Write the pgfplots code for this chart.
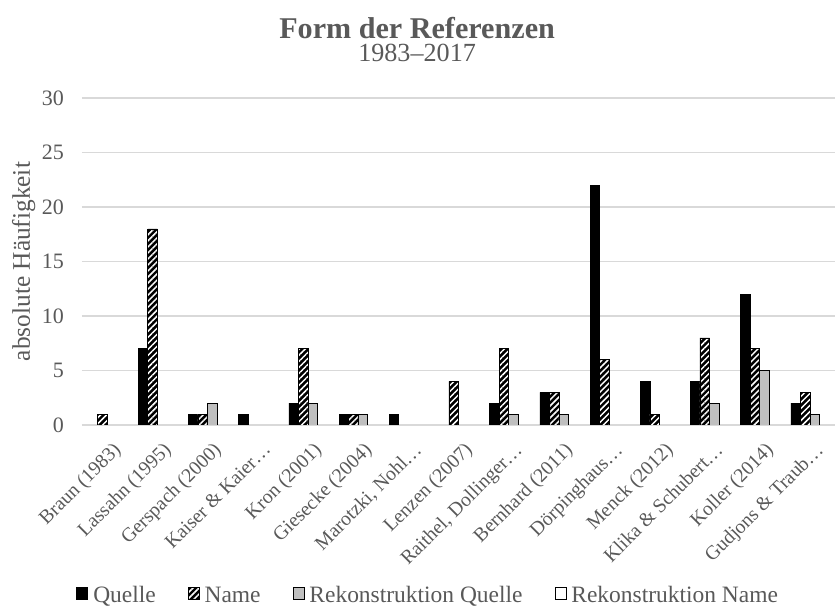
\documentclass[border=0pt]{standalone}
\usepackage{fontspec}
\setmainfont{Liberation Serif}
\usepackage{pgfplots}
\pgfplotsset{compat=1.18}
\usetikzlibrary{patterns.meta}
\definecolor{txt}{HTML}{595959}
\definecolor{gridc}{HTML}{D9D9D9}
\definecolor{rq}{HTML}{BFBFBF}
\tikzset{namepat/.style={fill=black, draw=black, postaction={pattern={Lines[angle=45,distance=3.2pt,line width=1.1pt]}, pattern color=white}}}
\begin{document}
\begin{tikzpicture}
\begin{axis}[name=ax,
  scale only axis, width=564.75pt, height=245.25pt,
  ybar=0pt, bar width=0.19,
  xmin=-0.5, xmax=14.5, ymin=0, ymax=30, ytick={0,5,...,30},
  xtick={0,...,14},
  xticklabels={Braun (1983), Lassahn (1995), Gerspach (2000), Kaiser \& Kaier…, Kron (2001), Giesecke (2004), {Marotzki, Nohl…}, Lenzen (2007), {Raithel, Dollinger…}, Bernhard (2011), Dörpinghaus…, Menck (2012), Klika \& Schubert…, Koller (2014), Gudjons \& Traub…},
  ymajorgrids, grid style={draw=gridc, line width=0.9pt},
  axis line style={draw=none}, major tick length=0pt,
  tick label style={text=txt},
  yticklabel style={font=\fontsize{16.5}{20}\selectfont, xshift=-10pt},
  /pgf/number format/assume math mode=true,
  xticklabel style={font=\fontsize{14.8}{17}\selectfont, rotate=45, anchor=north east, inner sep=1pt, xshift=-5pt, yshift=-10pt},
  ylabel={absolute Häufigkeit},
  ylabel style={font=\fontsize{19}{22}\selectfont, text=txt, yshift=-2pt},
  title={{\bfseries\fontsize{22.6}{26}\selectfont Form der Referenzen}\\[3pt]{\fontsize{19.6}{22}\selectfont 1983–2017}},
  title style={align=center, text=txt, at={(0.445,1)}, anchor=south, yshift=18pt},
  legend columns=4,
  legend style={draw=none, font=\fontsize{17.6}{20}\selectfont, text=txt, at={(0.462,-0.525)}, anchor=center, inner sep=0pt, /tikz/every even column/.append style={column sep=20pt}, nodes={text depth=0.2em, text height=0.72em, inner xsep=4pt, inner ysep=1pt}},
  legend cell align=left,
]
\addplot[fill=black, draw=black, bar shift=-0.285, forget plot] coordinates {(1,7)(2,1)(3,1)(4,2)(5,1)(6,1)(8,2)(9,3)(10,22)(11,4)(12,4)(13,12)(14,2)};
\addplot[namepat, bar shift=-0.095, forget plot] coordinates {(0,1)(1,18)(2,1)(4,7)(5,1)(7,4)(8,7)(9,3)(10,6)(11,1)(12,8)(13,7)(14,3)};
\addplot[fill=rq, draw=black, bar shift=0.095, forget plot] coordinates {(2,2)(4,2)(5,1)(8,1)(9,1)(12,2)(13,5)(14,1)};
\addlegendimage{legend image code/.code={\draw[fill=black,draw=black] (0pt,-0.5pt) rectangle (8.2pt,8.3pt);}}
\addlegendimage{legend image code/.code={\draw[namepat] (0pt,-0.5pt) rectangle (8.2pt,8.3pt);}}
\addlegendimage{legend image code/.code={\draw[fill=rq,draw=black] (0pt,-0.5pt) rectangle (8.2pt,8.3pt);}}
\addlegendimage{legend image code/.code={\draw[fill=white,draw=black] (0pt,-0.5pt) rectangle (8.2pt,8.3pt);}}
\legend{Quelle, Name, Rekonstruktion Quelle, Rekonstruktion Name}
\end{axis}
\pgfresetboundingbox
\path ([xshift=-61.5pt,yshift=-135.75pt]ax.south west) rectangle ([yshift=73.5pt]ax.north east);
\end{tikzpicture}
\end{document}
